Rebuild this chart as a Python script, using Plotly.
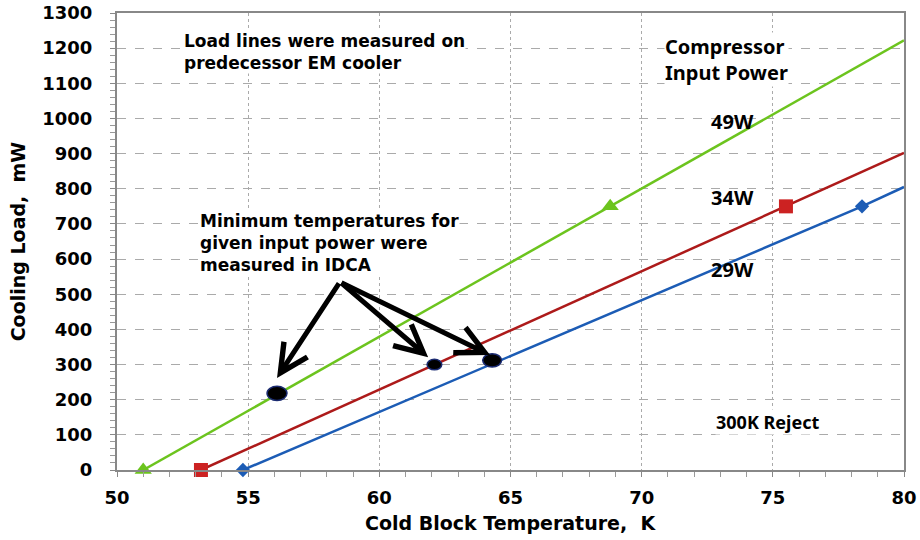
import plotly.graph_objects as go

# ---- data ----
temp_49w = [51.0, 68.8, 80.0]
load_49w = [0, 750, 1222]
temp_34w = [53.2, 75.5, 80.0]
load_34w = [0, 750, 902]
temp_29w = [54.8, 78.4, 80.0]
load_29w = [0, 750, 805]

marker_idx = [0, 1]  # measured points shown with markers

min_temp = [56.1, 62.1, 64.3]
min_load = [218, 300, 312]
ell_w = [0.38, 0.28, 0.36]     # half widths (K)
ell_h = [20, 15, 19]           # half heights (mW)

arrow_from = (58.5, 535)
arrow_tips_x = [56.1, 61.86, 64.22]
arrow_tips_y = [262, 321, 327]

x_ticks = [50, 55, 60, 65, 70, 75, 80]
y_ticks = list(range(0, 1301, 100))

GREEN = "#6cc41e"
RED = "#ad1a1a"
BLUE = "#1c5cb5"
FONT = "DejaVu Sans"
FONT2 = "Noto Sans"

fig = go.Figure()

series = [
    (temp_49w, load_49w, GREEN, "triangle-up", 15, GREEN, "49W"),
    (temp_34w, load_34w, RED, "square", 14, "#cc2222", "34W"),
    (temp_29w, load_29w, BLUE, "diamond", 11, BLUE, "29W"),
]
for xs, ys, col, sym, size, mcol, name in series:
    fig.add_trace(go.Scatter(x=xs, y=ys, mode="lines", line=dict(color=col, width=2.5),
                             name=name, showlegend=False, hoverinfo="skip", cliponaxis=False))
    fig.add_trace(go.Scatter(x=[xs[i] for i in marker_idx], y=[ys[i] for i in marker_idx],
                             mode="markers", marker=dict(symbol=sym, size=size, color=mcol),
                             showlegend=False, hoverinfo="skip", cliponaxis=False))

shapes = []
for x, y, w, h in zip(min_temp, min_load, ell_w, ell_h):
    shapes.append(dict(type="circle", xref="x", yref="y", x0=x - w, x1=x + w, y0=y - h, y1=y + h,
                       fillcolor="black", line=dict(color="#1a2a70", width=1.5), layer="above"))

annotations = []
for tx, ty in zip(arrow_tips_x, arrow_tips_y):
    annotations.append(dict(x=tx, y=ty, xref="x", yref="y", ax=arrow_from[0], ay=arrow_from[1],
                            axref="x", ayref="y", text="", showarrow=True, arrowhead=5,
                            arrowsize=1.1, arrowwidth=5, arrowcolor="black", standoff=0))

def txt(x, y, text, size, family=FONT, bg="white"):
    annotations.append(dict(x=x, y=y, xref="x", yref="y", text=text, showarrow=False,
                            xanchor="left", yanchor="middle", align="left",
                            font=dict(family=family, size=size, color="black"),
                            bgcolor=bg, borderpad=0))

txt(52.52, 1190, "<b>Load lines were measured on<br>predecessor EM cooler</b>", 17)
txt(53.13, 646, "<b>Minimum temperatures for<br>given input power were<br>measured in IDCA</b>", 17)
txt(70.85, 1169, "<b>Compressor<br>Input Power</b>", 20, family=FONT2)
txt(72.6, 990, "<b>49W</b>", 20, family=FONT2, bg=None)
txt(72.6, 774, "<b>34W</b>", 20, family=FONT2, bg=None)
txt(72.6, 569, "<b>29W</b>", 20, family=FONT2, bg=None)
txt(72.8, 137, "<b>300K Reject</b>", 18, family=FONT2)

# axis titles as paper-positioned annotations
annotations.append(dict(x=0.5, y=-0.115, xref="paper", yref="paper", showarrow=False,
                        text="<b>Cold Block Temperature,  K</b>", yanchor="middle",
                        font=dict(size=19, family=FONT, color="black")))
annotations.append(dict(x=-0.126, y=0.5, xref="paper", yref="paper", showarrow=False,
                        text="<b>Cooling Load,  mW</b>", textangle=-90, xanchor="center",
                        font=dict(size=19, family=FONT, color="black")))

fig.update_layout(
    width=920, height=540,
    margin=dict(l=117, r=16, t=13, b=70, autoexpand=False),
    paper_bgcolor="white", plot_bgcolor="white",
    shapes=shapes, annotations=annotations,
    showlegend=False,
    font=dict(family=FONT, color="black"),
)
fig.update_xaxes(
    range=[50, 80], tickvals=x_ticks, ticktext=[f"<b>{v}</b>" for v in x_ticks],
    tickfont=dict(size=18, family=FONT), ticks="outside", ticklen=5, tickcolor="#888",
    showline=True, linecolor="#888", linewidth=2, mirror=True,
    showgrid=True, gridcolor="#aaaaaa", griddash="dot", gridwidth=1,
    minor=dict(dtick=1, ticks="outside", ticklen=5, tickcolor="#999", showgrid=False),
    zeroline=False, ticklabelstandoff=5, automargin=False,
)
fig.update_yaxes(
    range=[0, 1300], tickvals=y_ticks, ticktext=[f"<b>{v}</b>" for v in y_ticks],
    tickfont=dict(size=18, family=FONT), ticks="outside", ticklen=5, tickcolor="#888",
    showline=True, linecolor="#888", linewidth=2, mirror=True,
    showgrid=True, gridcolor="#aaaaaa", griddash="dash", gridwidth=1,
    minor=dict(dtick=20, ticks="outside", ticklen=5, tickcolor="#999", showgrid=False),
    zeroline=False, ticklabelstandoff=14, automargin=False,
)

fig.write_html("out.html")
